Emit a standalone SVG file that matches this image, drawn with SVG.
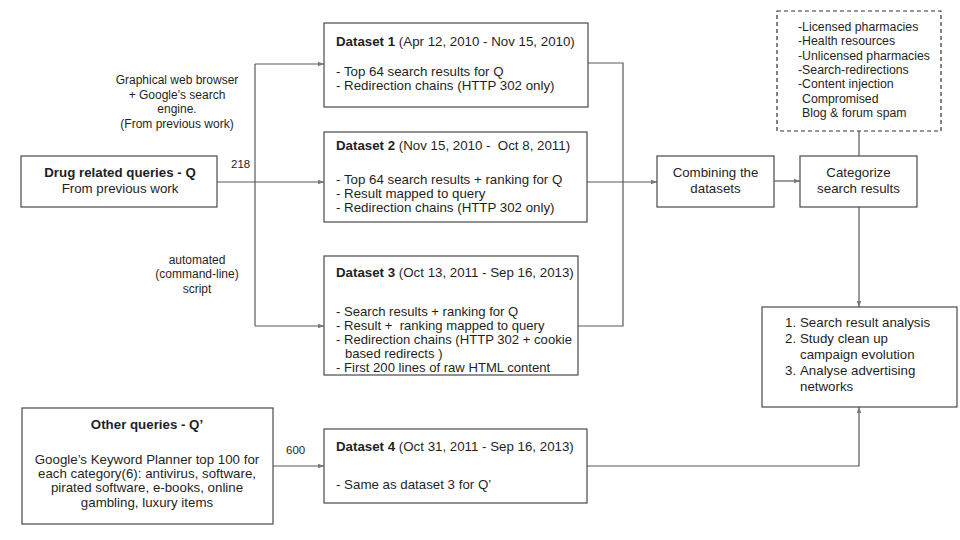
<svg xmlns="http://www.w3.org/2000/svg" width="960" height="540" viewBox="0 0 960 540">
<defs>
<style>
text{font-family:"Liberation Sans",Arial,sans-serif;font-size:13.3px;fill:#1f1f1f;white-space:pre}
.s{font-size:12px}
.n{font-size:11.5px}
.d{font-size:12.3px}
.t{font-size:13.1px}
.b{font-weight:bold}
.c{text-anchor:middle}
.box{fill:#fff;stroke:#4a4a4a;stroke-width:1.2}
.dash{fill:#fff;stroke:#333;stroke-width:1.2;stroke-dasharray:4 3}
.ln{fill:none;stroke:#595959;stroke-width:1.2}
</style>
<marker id="ah" viewBox="0 0 8 8" refX="8" refY="4" markerWidth="6" markerHeight="6" orient="auto" markerUnits="userSpaceOnUse">
<path d="M0,1 L8,4 L0,7 Z" fill="#777"/>
</marker>
</defs>
<rect width="960" height="540" fill="#fff"/>
<g id="connectors">
<path class="ln" d="M217,182 H255"/>
<path class="ln" d="M255,64 V326"/>
<path class="ln" d="M255,64 H324" marker-end="url(#ah)"/>
<path class="ln" d="M255,182 H324" marker-end="url(#ah)"/>
<path class="ln" d="M255,326 H324" marker-end="url(#ah)"/>
<path class="ln" d="M273,466 H324" marker-end="url(#ah)"/>
<path class="ln" d="M588,63 H623 V326 H578"/>
<path class="ln" d="M587,182 H657" marker-end="url(#ah)"/>
<path class="ln" d="M774,181 H800" marker-end="url(#ah)"/>
<path class="ln" d="M859,131 V156"/>
<path class="ln" d="M859,207 V307" marker-end="url(#ah)"/>
<path class="ln" d="M587,466 H859 V407" marker-end="url(#ah)"/>
</g>
<g id="lbl-graphical">
<text class="s c" x="177" y="84">Graphical web browser</text>
<text class="s c" x="177" y="99">+ Google's search</text>
<text class="s c" x="177" y="113">engine.</text>
<text class="s c" x="177" y="128">(From previous work)</text>
</g>
<g id="lbl-automated">
<text class="s c" x="197" y="264">automated</text>
<text class="s c" x="197" y="278">(command-line)</text>
<text class="s c" x="197" y="293">script</text>
</g>
<text class="n" x="231" y="168">218</text>
<text class="n" x="286" y="454">600</text>
<g id="drug-queries">
<rect class="box" x="21" y="156" width="196" height="51"/>
<text class="b c" x="120" y="177">Drug related queries - Q</text>
<text class="c" x="120" y="193">From previous work</text>
</g>
<g id="other-queries">
<rect class="box" x="22" y="408" width="251" height="116"/>
<text class="b c" x="147" y="429">Other queries - Q’</text>
<text class="c" x="147" y="464">Google’s Keyword Planner top 100 for</text>
<text class="c" x="147" y="478">each category(6): antivirus, software,</text>
<text class="c" x="147" y="492">pirated software, e-books, online</text>
<text class="c" x="147" y="507">gambling, luxury items</text>
</g>
<g id="dataset1">
<rect class="box" x="324" y="23" width="264" height="84"/>
<text x="336" y="46"><tspan class="b">Dataset 1</tspan> (Apr 12, 2010 - Nov 15, 2010)</text>
<text x="336" y="76">- Top 64 search results for Q</text>
<text x="336" y="90">- Redirection chains (HTTP 302 only)</text>
</g>
<g id="dataset2">
<rect class="box" x="324" y="132" width="263" height="90"/>
<text x="336" y="150"><tspan class="b">Dataset 2</tspan> (Nov 15, 2010 -  Oct 8, 2011)</text>
<text x="336" y="184">- Top 64 search results + ranking for Q</text>
<text x="336" y="198">- Result mapped to query</text>
<text x="336" y="212">- Redirection chains (HTTP 302 only)</text>
</g>
<g id="dataset3">
<rect class="box" x="324" y="256" width="254" height="119"/>
<text x="336" y="277"><tspan class="b">Dataset 3</tspan> (Oct 13, 2011 - Sep 16, 2013)</text>
<text class="t" x="336" y="316">- Search results + ranking for Q</text>
<text class="t" x="336" y="330">- Result +  ranking mapped to query</text>
<text class="t" x="336" y="344">- Redirection chains (HTTP 302 + cookie</text>
<text class="t" x="345" y="358">based redirects )</text>
<text class="t" x="336" y="372">- First 200 lines of raw HTML content</text>
</g>
<g id="dataset4">
<rect class="box" x="324" y="429" width="263" height="74"/>
<text x="336" y="451"><tspan class="b">Dataset 4</tspan> (Oct 31, 2011 - Sep 16, 2013)</text>
<text x="336" y="489">- Same as dataset 3 for Q’</text>
</g>
<g id="combining">
<rect class="box" x="657" y="156" width="117" height="51"/>
<text class="c" x="715.5" y="177">Combining the</text>
<text class="c" x="715.5" y="193">datasets</text>
</g>
<g id="categorize">
<rect class="box" x="800" y="156" width="117" height="51"/>
<text class="c" x="858.5" y="177">Categorize</text>
<text class="c" x="858.5" y="193">search results</text>
</g>
<g id="categories">
<rect class="dash" x="777" y="11" width="164" height="120"/>
<text class="d" x="798" y="31">-Licensed pharmacies</text>
<text class="d" x="798" y="45">-Health resources</text>
<text class="d" x="798" y="60">-Unlicensed pharmacies</text>
<text class="d" x="798" y="74">-Search-redirections</text>
<text class="d" x="798" y="88">-Content injection</text>
<text class="d" x="802" y="103">Compromised</text>
<text class="d" x="802" y="117">Blog &amp; forum spam</text>
</g>
<g id="analysis">
<rect class="box" x="762" y="307" width="195" height="100"/>
<text x="785" y="327">1.</text><text x="800" y="327">Search result analysis</text>
<text x="785" y="343">2.</text><text x="800" y="343">Study clean up</text>
<text x="800" y="359">campaign evolution</text>
<text x="785" y="375">3.</text><text x="800" y="375">Analyse advertising</text>
<text x="800" y="391">networks</text>
</g>
</svg>
